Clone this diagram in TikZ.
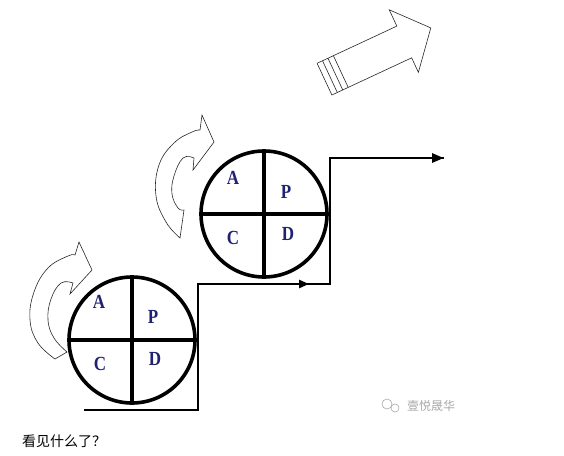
\documentclass[tikz,border=0pt]{standalone}
\usepackage{fontspec}
\setmainfont{Liberation Serif}
\newfontfamily\cjk{Noto Sans CJK SC}
\usetikzlibrary{arrows.meta}
\definecolor{letterblue}{HTML}{1F2270}
\definecolor{wmgray}{HTML}{A8A8A8}
\tikzset{
  pdca/.style={circle, draw=black, line width=3.6pt, minimum size=126pt, inner sep=0pt, outer sep=0pt},
  cross/.style={line width=3.4pt},
  stair/.style={line width=2.8pt},
  letter/.style={text=letterblue, font=\fontsize{20}{20}\selectfont\bfseries, inner sep=0pt},
  hollow/.style={line width=0.6pt, draw=black!85},
}
\newcommand{\narrowletter}[1]{\scalebox{0.85}[1]{#1}}
\begin{document}
\begin{tikzpicture}[x=1pt,y=-1pt]
\useasboundingbox (0,0) rectangle (564,455);
% circles
\node[pdca] (c1) at (132,340) {};
\node[pdca] (c2) at (264,214) {};
\draw[cross] (c1.north) -- (c1.south);
\draw[cross] (c1.west) -- (c1.east);
\draw[cross] (c2.north) -- (c2.south);
\draw[cross] (c2.west) -- (c2.east);
% letters
\node[letter] (a1) at (99,302) {\narrowletter{A}};
\node[letter] (p1) at (153,317) {\narrowletter{P}};
\node[letter] (cc1) at (100,364) {\narrowletter{C}};
\node[letter] (d1) at (155,359) {\narrowletter{D}};
\node[letter] (a2) at (233,178) {\narrowletter{A}};
\node[letter] (p2) at (286,192) {\narrowletter{P}};
\node[letter] (cc2) at (233,238) {\narrowletter{C}};
\node[letter] (d2) at (288,234) {\narrowletter{D}};
% staircase
\coordinate (s0) at (84,410);
\coordinate (s1) at (198,410);
\coordinate (s2) at (198,284);
\coordinate (s3) at (330,284);
\coordinate (s4) at (330,158);
\coordinate (s5) at (444,158);
\coordinate (m) at (309,284);
\draw[stair] (s0) -- (s1) -- (s2) -- (s3) -- (s4) -- (s5);
\draw[stair, -{Triangle[length=12pt,width=9pt]}] (s4) -- (s5);
\draw[stair, -{Triangle[length=10pt,width=8pt]}] (s2) -- (m);
% curved hollow arrow (lower)
\draw[hollow] plot[smooth, tension=0.7] coordinates {(55,359) (38,343) (30,320) (34,292) (48,268) (68,256) (75,255)}
  -- (79,242) -- (92,270) -- (70,294) -- (73,283)
  -- plot[smooth, tension=0.7] coordinates {(73,283) (61,283) (51,299) (48,320) (54,338) (67,352)} -- cycle;
% curved hollow arrow (upper)
\draw[hollow] plot[smooth, tension=0.7] coordinates {(180,238) (166,222) (156,196) (159,165) (174,143) (192,132) (200,130)}
  -- (202,115) -- (214,142) -- (193,170) -- (194,158)
  -- plot[smooth, tension=0.7] coordinates {(194,158) (183,158) (174,176) (172,194) (178,208) (184,210)} -- cycle;
% big hollow arrow
\begin{scope}[shift={(341,72)}, rotate=25]
  \draw[hollow] (0,-18) -- (70,-18) -- (70,-36) -- (100,-2) -- (70,33) -- (70,17) -- (0,17) -- cycle;
  \draw[hollow] (-18,-18) -- (0,-18);
  \draw[hollow] (-18,17) -- (0,17);
  \draw[hollow] (-18,-18) -- (-18,17);
  \draw[hollow] (-12,-18) -- (-12,17);
  \draw[hollow] (-6,-18) -- (-6,17);
\end{scope}
% watermark
\draw[wmgray, line width=0.6pt] (387,404) circle (5pt);
\draw[wmgray, line width=0.6pt] (395,408) circle (4pt);
\node[text=wmgray, font=\cjk\fontsize{12}{12}\selectfont, anchor=west, inner sep=0pt] (wm) at (407,406) {壹悦晟华};
% caption
\node[font=\cjk\fontsize{14}{14}\selectfont, anchor=west, inner sep=0pt] (cap) at (22,441) {看见什么了？};
\end{tikzpicture}
\end{document}
